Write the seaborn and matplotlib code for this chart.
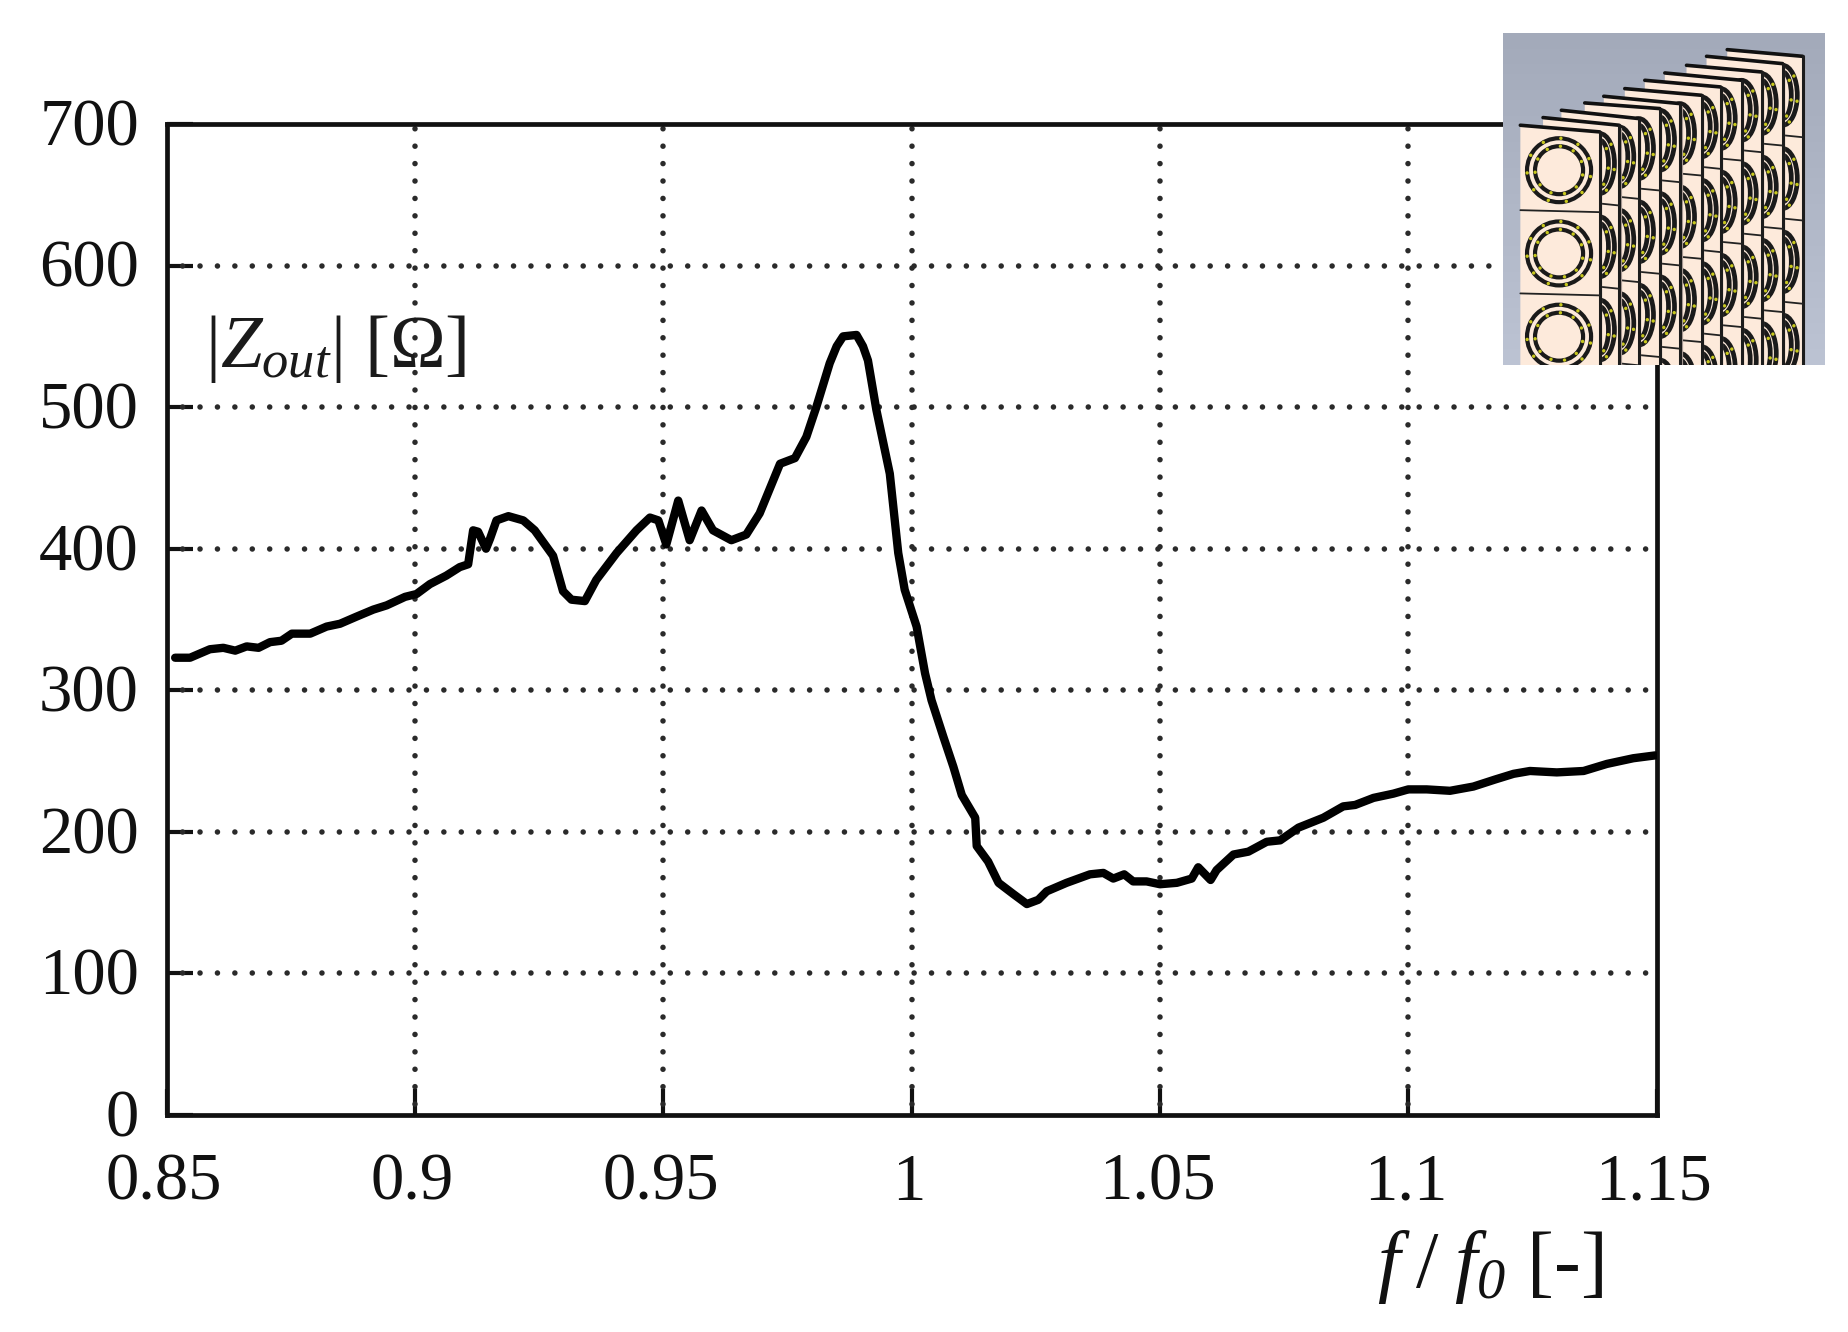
import numpy as np
import matplotlib
matplotlib.use('Agg')
import matplotlib.pyplot as plt
import seaborn as sns
from matplotlib.patches import Polygon, Ellipse
from matplotlib.colors import LinearSegmentedColormap
from matplotlib.transforms import ScaledTranslation

# curve
freq = [0.8517, 0.8547, 0.8587, 0.8614, 0.8638, 0.8661, 0.8685, 0.8708, 0.8731, 0.8752,
        0.8789, 0.8822, 0.8849, 0.8882, 0.8916, 0.8943, 0.8980, 0.9003, 0.9030, 0.9063,
        0.9090, 0.9107, 0.9117, 0.9127, 0.9143, 0.9151, 0.9164, 0.9188, 0.9218, 0.9241,
        0.9278, 0.9298, 0.9315, 0.9342, 0.9365, 0.9406, 0.9446, 0.9473, 0.9490, 0.9506,
        0.9530, 0.9553, 0.9577, 0.9600, 0.9637, 0.9667, 0.9694, 0.9735, 0.9765, 0.9788,
        0.9808, 0.9835, 0.9849, 0.9862, 0.9889, 0.9902, 0.9912, 0.9929, 0.9956, 0.9973, 0.9986, 1.0010,
        1.0027, 1.0040, 1.0064, 1.0084, 1.0101, 1.0128, 1.0131, 1.0154, 1.0175, 1.0205,
        1.0232, 1.0255, 1.0272, 1.0312, 1.0359, 1.0386, 1.0406, 1.0428, 1.0446, 1.0473,
        1.0500, 1.0534, 1.0564, 1.0577, 1.0602, 1.0614, 1.0648, 1.0678, 1.0715, 1.0742,
        1.0779, 1.0829, 1.0869, 1.0893, 1.0930, 1.0970, 1.1000, 1.1037, 1.1084, 1.1131,
        1.1175, 1.1212, 1.1245, 1.1299, 1.1353, 1.1400, 1.1453, 1.1497]
z_out = [323, 323, 329, 330, 328, 331, 330, 334, 335, 340,
         340, 345, 347, 352, 357, 360, 366, 368, 375, 381,
         387, 389, 413, 412, 400, 407, 420, 423, 420, 413,
         395, 370, 364, 363, 378, 397, 413, 422, 420, 403,
         434, 406, 427, 413, 406, 410, 425, 460, 464, 479,
         500, 531, 543, 550, 551, 543, 533, 498, 453, 397, 371, 345,
         312, 293, 267, 246, 226, 210, 190, 179, 164, 156,
         149, 152, 158, 164, 170, 171, 167, 170, 165, 165,
         163, 164, 167, 175, 166, 173, 184, 186, 193, 194,
         203, 210, 218, 219, 224, 227, 230, 230, 229, 232,
         237, 241, 243, 242, 243, 248, 252, 254]

x_ticks = [0.85, 0.9, 0.95, 1, 1.05, 1.1, 1.15]
x_tick_labels = ['0.85', '0.9', '0.95', '1', '1.05', '1.1', '1.15']
y_ticks = [0, 100, 200, 300, 400, 500, 600, 700]

# inset drawing: top-left and top-right corners of the staggered panels
panel_left = [122, 190, 245, 315, 372, 435, 495, 555, 620, 680, 742]
panel_top_left = [315, 292, 270, 248, 228, 205, 180, 158, 135, 108, 88]
panel_right = [360, 418, 477, 540, 600, 665, 722, 785, 845, 908, 968]
panel_top_right = [335, 315, 295, 265, 250, 225, 200, 180, 155, 130, 108]
ring_first_y = [450, 430, 410, 385, 360, 340, 320, 295, 270, 250, 225]

sns.set_theme(style='ticks')
plt.rcParams['font.family'] = ['Liberation Serif', 'DejaVu Serif']
plt.rcParams['mathtext.fontset'] = 'custom'
plt.rcParams['mathtext.rm'] = 'Liberation Serif'
plt.rcParams['mathtext.it'] = 'Liberation Serif:italic'
plt.rcParams['mathtext.cal'] = 'Liberation Serif:italic'
plt.rcParams['lines.scale_dashes'] = False

W, H = 1848, 1332
fig = plt.figure(figsize=(W / 100, H / 100), dpi=100, facecolor='white')
ax = fig.add_axes([166.7 / W, (H - 1115) / H, 1489.9 / W, 991 / H])

sns.lineplot(x=freq, y=z_out, color='black', linewidth=6, errorbar=None, ax=ax, zorder=3,
             solid_joinstyle='round', solid_capstyle='round')

ax.set_xlim(0.85, 1.15)
ax.set_ylim(0, 700)
ax.set_xticks(x_ticks)
ax.set_xticklabels(x_tick_labels)
ax.set_yticks(y_ticks)
ax.tick_params(axis='both', direction='in', length=18.5, width=3, color='#111111',
               labelsize=48, labelcolor='#111111')
ax.tick_params(axis='x', pad=27)
ax.tick_params(axis='y', pad=20)
for s in ax.spines.values():
    s.set_linewidth(3.4)
    s.set_color('#111111')

# nudge the labels onto the reference positions
for lab in ax.get_yticklabels():
    lab.set_transform(lab.get_transform() + ScaledTranslation(0, 1.5 / 72, fig.dpi_scale_trans))
for lab in ax.get_xticklabels():
    lab.set_transform(lab.get_transform() + ScaledTranslation(-2 / 72, 0, fig.dpi_scale_trans))

# dotted grid, phases matched to the picture
for x in x_ticks[1:-1]:
    ax.axvline(x, color='#2a2a2a', lw=4, dash_capstyle='round', linestyle=(4.7, (0.01, 12.53)), zorder=1)
for y in y_ticks[1:-1]:
    ax.axhline(y, color='#2a2a2a', lw=4, dash_capstyle='round', linestyle=(1.3, (0.01, 12.53)), zorder=1)

ax.set_xlabel(r'$f\;/\;f_{\mathcal{0}}$ [-]', fontsize=58, color='#111111', ha='right')
ax.xaxis.set_label_coords((1603 - 166.7) / 1489.9, -0.114)
ax.text((205 - 166.7) / 1489.9, (1115 - 367) / 991, r'$|Z_{out}|$ [Ω]', transform=ax.transAxes,
        fontsize=54, color='#1a1a1a', ha='left', va='baseline')

# CAD model picture in the corner, coordinates follow the cropped reference
inset = fig.add_axes([1503 / W, (H - 365) / H, 322 / W, 332 / H], zorder=5)
inset.imshow(np.linspace(0, 1, 64).reshape(-1, 1), cmap=LinearSegmentedColormap.from_list(
    'bg', ['#a3aaba', '#bcc3d3']), extent=(70, 1035, 1035, 38), aspect='auto', zorder=0)
inset.axis('off')
panel_color = '#fdeadb'
for i in range(len(panel_left) - 1, -1, -1):
    z = 2 * (11 - i)
    left = panel_left[i] if i == 0 else panel_right[i - 1]
    poly = Polygon([(panel_left[i], panel_top_left[i]), (panel_right[i], panel_top_right[i]),
                    (panel_right[i], 1035), (panel_left[i], 1035)],
                   facecolor=panel_color, edgecolor='none', zorder=z)
    inset.add_patch(poly)
    # thick top and right edges
    inset.plot([panel_left[i], panel_right[i]], [panel_top_left[i], panel_top_right[i]],
               color='#111111', lw=2.6, zorder=z + 1)
    inset.plot([panel_right[i], panel_right[i]], [panel_top_right[i], 1035], color='#1c1c1c', lw=2.2, zorder=z + 1)
    inset.plot([panel_right[i] + 5, panel_right[i] + 5], [panel_top_right[i] + 10, 1035],
               color='#a89a94', lw=1.6, zorder=z)
    for k in range(5):
        yc = ring_first_y[i] + 250 * k
        if yc > 1120:
            continue
        # row seam
        inset.plot([left, panel_right[i]], [yc + 120, yc + 126], color='#222222', lw=1.3, zorder=z + 1)
        if i == 0:
            xc = 238
            rings = [(96, 96), (72, 72)]
        else:
            xc = left
            rings = [(44, 90), (26, 70)]
        for rx, ry in rings:
            e = Ellipse((xc, yc), 2 * rx, 2 * ry, fill=False, edgecolor='#1a1a1a', lw=3.4 if i else 3.0, zorder=z + 1)
            inset.add_patch(e)
            e.set_clip_path(poly)
            # yellow dots on the ring
            ang = np.linspace(0, 2 * np.pi, 11 if i == 0 else 7, endpoint=False) + 0.2
            px, py = xc + rx * np.cos(ang), yc + ry * np.sin(ang)
            keep = (px > left + 3) & (px < panel_right[i] - 3) & (py < 1030)
            inset.scatter(px[keep], py[keep], s=6, color='#c8c81e', edgecolors='none', zorder=z + 2)

inset.set_xlim(70, 1035)
inset.set_ylim(1035, 38)

fig.savefig('out.png', dpi=100, facecolor='white')
